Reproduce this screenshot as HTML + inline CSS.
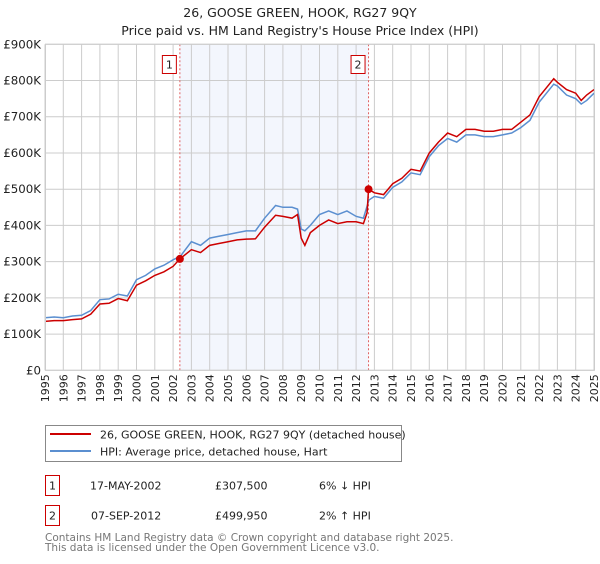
<!DOCTYPE html>
<html><head><meta charset="utf-8"><style>
body{margin:0;background:#fff;font-family:"DejaVu Sans","Liberation Sans",sans-serif;}
svg text{font-family:"DejaVu Sans","Liberation Sans",sans-serif;}
</style></head><body>
<svg id="chart" width="600" height="560" xmlns="http://www.w3.org/2000/svg">
<text x="300" y="17" text-anchor="middle" font-size="12.5" fill="#222">26, GOOSE GREEN, HOOK, RG27 9QY</text>
<text x="300" y="35" text-anchor="middle" font-size="12.5" fill="#222">Price paid vs. HM Land Registry's House Price Index (HPI)</text>
<g id="plot"></g>
<g>
<rect x="45.5" y="425.5" width="356" height="36" fill="#fff" stroke="#888"/>
<line x1="50" y1="434" x2="91" y2="434" stroke="#cc0000" stroke-width="2"/>
<text x="100" y="438.5" font-size="11" fill="#222">26, GOOSE GREEN, HOOK, RG27 9QY (detached house)</text>
<line x1="50" y1="451" x2="91" y2="451" stroke="#5b8fd0" stroke-width="2"/>
<text x="100" y="455.5" font-size="11" fill="#222">HPI: Average price, detached house, Hart</text>
</g>
<g font-size="11" fill="#222">
<rect x="45.5" y="475.5" width="14" height="20" fill="#fff" stroke="#cc0000"/>
<text x="52.5" y="489.5" text-anchor="middle">1</text>
<text x="90" y="489.5">17-MAY-2002</text>
<text x="215" y="489.5">£307,500</text>
<text x="319" y="489.5">6% ↓ HPI</text>
<rect x="45.5" y="505.5" width="14" height="20" fill="#fff" stroke="#cc0000"/>
<text x="52.5" y="519.5" text-anchor="middle">2</text>
<text x="91" y="519.5">07-SEP-2012</text>
<text x="215" y="519.5">£499,950</text>
<text x="319" y="519.5">2% ↑ HPI</text>
</g>
<text x="45" y="541" font-size="10.5" fill="#777">Contains HM Land Registry data © Crown copyright and database right 2025.</text>
<text x="45" y="551" font-size="10.5" fill="#777">This data is licensed under the Open Government Licence v3.0.</text>
</svg>
<script>
const hpiYears=[1995,1995.5,1996,1996.5,1997,1997.5,1998,1998.5,1999,1999.5,2000,2000.5,2001,2001.5,2002,2002.4,2003,2003.5,2004,2004.5,2005,2005.5,2006,2006.5,2007,2007.6,2008,2008.5,2008.8,2009,2009.2,2009.5,2010,2010.5,2011,2011.5,2012,2012.4,2012.7,2013,2013.5,2014,2014.5,2015,2015.5,2016,2016.5,2017,2017.5,2018,2018.5,2019,2019.5,2020,2020.5,2021,2021.5,2022,2022.8,2023,2023.5,2024,2024.3,2024.6,2025];
const hpiValues=[145,147,145,150,152,165,195,197,210,205,250,262,280,290,305,315,355,345,365,370,375,380,385,385,420,455,450,450,445,390,385,400,430,440,430,440,425,420,470,480,475,505,520,545,540,590,620,640,630,650,650,645,645,650,655,670,690,740,790,785,760,750,735,745,765];
const ppYears=[1995,1995.5,1996,1996.5,1997,1997.5,1998,1998.5,1999,1999.5,2000,2000.5,2001,2001.5,2002,2002.37,2003,2003.5,2004,2004.5,2005,2005.5,2006,2006.5,2007,2007.6,2008,2008.5,2008.8,2009,2009.2,2009.5,2010,2010.5,2011,2011.5,2012,2012.4,2012.6,2012.68,2013,2013.5,2014,2014.5,2015,2015.5,2016,2016.5,2017,2017.5,2018,2018.5,2019,2019.5,2020,2020.5,2021,2021.5,2022,2022.8,2023,2023.5,2024,2024.3,2024.6,2025];
const ppValues=[135,137,137,140,142,155,183,185,198,192,235,247,262,272,287,307.5,333,325,345,350,355,360,362,363,395,428,425,420,430,365,345,380,400,415,405,410,410,405,435,499.95,490,485,515,530,555,550,600,630,655,645,665,665,660,660,665,665,685,705,755,805,795,775,765,745,760,775];
const yTicks=[0,100,200,300,400,500,600,700,800,900];
const yTickLabels=["£0","£100K","£200K","£300K","£400K","£500K","£600K","£700K","£800K","£900K"];
const xTicks=[1995,1996,1997,1998,1999,2000,2001,2002,2003,2004,2005,2006,2007,2008,2009,2010,2011,2012,2013,2014,2015,2016,2017,2018,2019,2020,2021,2022,2023,2024,2025];
const saleYears=[2002.37,2012.68];
const saleValues=[307.5,499.95];
const saleLabels=["1","2"];
const NS="http://www.w3.org/2000/svg";
const X0=45,X1=594,Y0=370.3,Y1=44.3;
const x=v=>X0+(v-1995)/30*(X1-X0);
const y=v=>Y0-v/900*(Y0-Y1);
const g=document.getElementById('plot');
function mk(t,a){const e=document.createElementNS(NS,t);for(const k in a)e.setAttribute(k,a[k]);g.appendChild(e);return e;}
const shade=mk('rect',{x:x(saleYears[0]),y:Y1,width:x(saleYears[1])-x(saleYears[0]),height:Y0-Y1,fill:'#f3f6fd'});


xTicks.forEach(t=>{
 const l=mk('line',{x1:x(t),x2:x(t),y1:Y1,y2:Y0,stroke:'#cccccc','stroke-width':1});
 
 
 const tx=mk('text',{transform:`translate(${x(t)+4},${Y0+4}) rotate(-90)`,'text-anchor':'end','font-size':11,fill:'#222'});
 
 
 tx.textContent=t;
});
yTicks.forEach((t,i)=>{
 const l=mk('line',{x1:X0,x2:X1,y1:y(t),y2:y(t),stroke:'#cccccc','stroke-width':1});
 
 
 const tx=mk('text',{x:X0-4,y:y(t)+4,'text-anchor':'end','font-size':11.8,fill:'#222'});
 
 
 tx.textContent=yTickLabels[i];
});
saleYears.forEach((s,i)=>{
 const l=mk('line',{x1:x(s),x2:x(s),y1:Y1,y2:Y0,stroke:'#e06060','stroke-width':1,'stroke-dasharray':'2,2'});
 
 
 const r=mk('rect',{x:x(s)-17.5,y:55.5,width:14,height:18,fill:'#fff',stroke:'#cc0000'});
 
 
 const tx=mk('text',{x:x(s)-10.5,y:68.5,'text-anchor':'middle','font-size':11,fill:'#222'});
 
 
 tx.textContent=saleLabels[i];
});
const hp=mk('polyline',{points:hpiYears.map((v,i)=>x(v)+','+y(hpiValues[i])).join(' '),fill:'none',stroke:'#5b8fd0','stroke-width':1.5});


const pp=mk('polyline',{points:ppYears.map((v,i)=>x(v)+','+y(ppValues[i])).join(' '),fill:'none',stroke:'#cc0000','stroke-width':1.5});


saleYears.forEach((s,i)=>{
 const c=mk('circle',{cx:x(s),cy:y(saleValues[i]),r:4,fill:'#cc0000'});
 
 
});
const ax=mk('rect',{x:X0+0.5,y:Y1,width:X1-X0,height:Y0-Y1,fill:'none',stroke:'#cccccc'});


</script>
</body></html>
